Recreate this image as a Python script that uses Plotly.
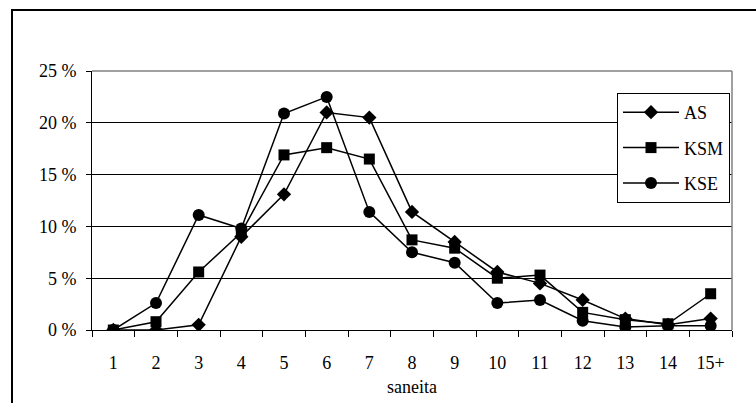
import plotly.graph_objects as go

categories = ["1", "2", "3", "4", "5", "6", "7", "8", "9", "10", "11", "12", "13", "14", "15+"]
as_vals = [0.0, 0.0, 0.5, 9.0, 13.1, 21.0, 20.5, 11.4, 8.5, 5.6, 4.5, 2.9, 1.1, 0.5, 1.1]
ksm_vals = [0.0, 0.8, 5.6, 9.4, 16.9, 17.6, 16.5, 8.7, 7.9, 5.0, 5.3, 1.7, 1.0, 0.6, 3.5]
kse_vals = [0.0, 2.6, 11.1, 9.8, 20.9, 22.5, 11.4, 7.5, 6.5, 2.6, 2.9, 0.9, 0.3, 0.4, 0.4]

W, H = 756, 403
L, R, T, B = 92, 24, 71, 73
pw, ph = W - L - R, H - T - B

font = "Liberation Serif"
FS = 18

fig = go.Figure()
series = [("AS", as_vals, "diamond", 11), ("KSM", ksm_vals, "square", 11), ("KSE", kse_vals, "circle", 12)]
for i, (name, vals, sym, sz) in enumerate(series):
    fig.add_trace(go.Scatter(
        x=categories, y=vals, name=name, mode="lines+markers",
        line=dict(color="black", width=1.5),
        marker=dict(symbol=sym, size=sz, color="black"),
        legendgroup=name,
    ))

fig.update_layout(
    width=W, height=H,
    margin=dict(l=L, r=R, t=T, b=B, pad=0, autoexpand=False),
    paper_bgcolor="white", plot_bgcolor="white",
    font=dict(family=font, size=FS, color="black"),
    showlegend=True,
    legend=dict(
        x=(617 - L) / pw, y=(H - B - 93) / ph, xanchor="left", yanchor="top",
        bordercolor="black", borderwidth=1, bgcolor="white",
        font=dict(family=font, size=FS, color="black"),
        traceorder="grouped", tracegroupgap=9,
        itemwidth=56,
    ),
    xaxis=dict(
        type="category", range=[-0.5, 14.5], automargin=False,
        tickson="boundaries", ticks="outside", ticklen=6, tickcolor="black", tickwidth=1,
        showline=True, linecolor="black", linewidth=1,
        showgrid=False, zeroline=False,
        ticklabelstandoff=16,
        title=dict(text="saneita", standoff=8, font=dict(family=font, size=FS)),
        tickfont=dict(family=font, size=FS),
    ),
    yaxis=dict(
        range=[0, 25], automargin=False,
        tickvals=[0, 5, 10, 15, 20, 25],
        ticktext=["0 %", "5 %", "10 %", "15 %", "20 %", "25 %"],
        ticks="outside", ticklen=5, tickcolor="black", tickwidth=1,
        showline=True, linecolor="black", linewidth=1,
        showgrid=True, gridcolor="black", gridwidth=1,
        zeroline=False,
        ticklabelstandoff=6,
        tickfont=dict(family=font, size=FS),
    ),
)

# gray plot-area frame on top and right
fig.add_shape(type="line", xref="paper", yref="paper", x0=0, x1=1, y0=1, y1=1,
              line=dict(color="#808080", width=1.5))
fig.add_shape(type="line", xref="paper", yref="paper", x0=1, x1=1, y0=0, y1=1,
              line=dict(color="#808080", width=1.5))
# outer chart border (extends past the right and bottom edges)
fig.add_shape(type="rect", xref="paper", yref="paper",
              x0=(12 - L) / pw, x1=(W + 5 - L) / pw,
              y0=(H - B - (H + 5)) / ph, y1=(H - B - 10) / ph,
              line=dict(color="black", width=2), fillcolor="rgba(0,0,0,0)", layer="below")

fig.write_html("out.html")
